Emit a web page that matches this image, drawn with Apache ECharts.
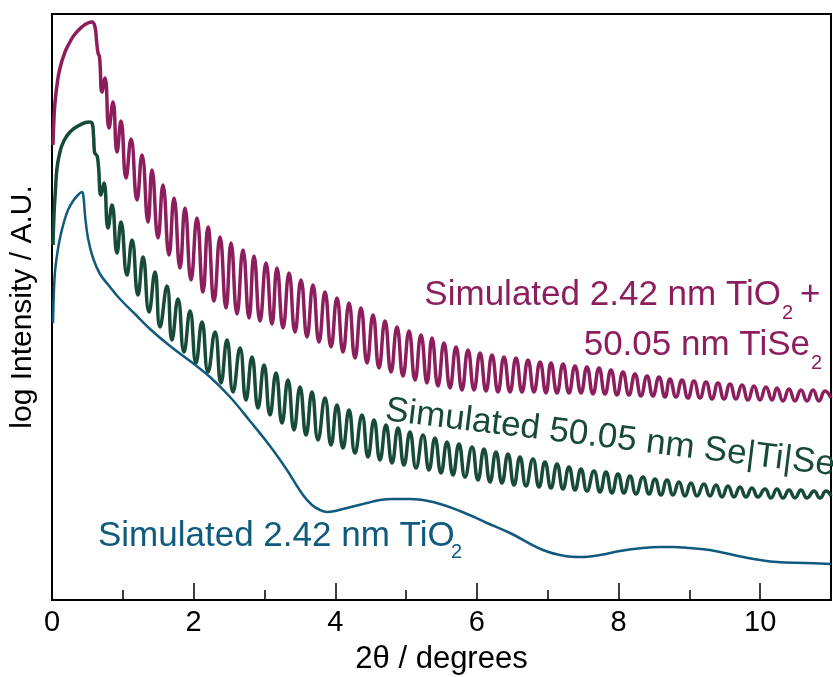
<!DOCTYPE html>
<html>
<head>
<meta charset="utf-8">
<script src="https://cdn.jsdelivr.net/npm/echarts@6/dist/echarts.min.js"></script>
<style>
html,body{margin:0;padding:0;background:#fff;}
#chart{width:833px;height:677px;}
</style>
</head>
<body>
<div id="chart"></div>
<script>
// 2θ (degrees) vs log intensity (arbitrary units)
const xTicks = [0, 2, 4, 6, 8, 10];

// Simulated 2.42 nm TiO2 + 50.05 nm TiSe2 (extrema of the fringes)
const tio2TiSe2 = [
[0.014,455],[0.028,482],[0.042,497],[0.071,515],[0.113,532],[0.184,548],[0.254,558],[0.325,566],[0.438,574],[0.508,577],
[0.565,578],[0.607,573],[0.628,560],[0.650,547],[0.671,543],[0.706,508],[0.748,522],[0.805,472],[0.861,498],[0.918,448],
[0.974,479],[1.045,422],[1.116,461],[1.200,400],[1.271,445],[1.356,378],[1.412,430],[1.497,362],[1.567,415],[1.652,345],
[1.723,402],[1.807,332],[1.878,392],[1.963,320],[2.047,382],[2.132,308],[2.203,373],[2.288,299],[2.372,363],[2.457,292],
[2.528,357],[2.612,286],[2.697,350],[2.782,282],[2.852,344],[2.937,279],[3.022,337],[3.106,276],[3.177,332],[3.262,272],
[3.347,327],[3.431,268],[3.516,320],[3.601,263],[3.685,315],[3.770,258],[3.855,308],[3.940,253],[4.024,302],[4.109,248],
[4.194,297],[4.278,242],[4.363,292],[4.448,237],[4.533,285],[4.617,232],[4.702,279],[4.787,228],[4.871,273],[4.956,224],
[5.041,269],[5.126,220],[5.210,265],[5.295,217],[5.366,262],[5.450,214],[5.535,257],[5.620,212],[5.705,253],[5.789,210],
[5.874,250],[5.959,210],[6.044,247],[6.128,209],[6.213,245],[6.298,208],[6.382,243],[6.467,208],[6.552,242],[6.637,208],
[6.721,240],[6.806,208],[6.891,238],[6.975,207],[7.046,237],[7.131,207],[7.216,236],[7.300,207],[7.385,234],[7.470,207],
[7.554,233],[7.639,206],[7.724,232],[7.809,206],[7.893,230],[7.978,205],[8.063,228],[8.147,205],[8.232,226],[8.317,204],
[8.402,224],[8.486,204],[8.571,223],[8.656,203],[8.726,221],[8.811,203],[8.896,220],[8.980,202],[9.065,219],[9.150,202],
[9.235,218],[9.320,201],[9.404,217],[9.489,201],[9.574,216],[9.658,201],[9.743,215],[9.828,200],[9.912,214],[9.997,200],
[10.082,213],[10.167,200],[10.237,212],[10.322,199],[10.407,211],[10.491,199],[10.576,210],[10.661,199],[10.746,210],[10.830,199],
[10.915,209],[11.000,202]
];

// Simulated 50.05 nm Se|Ti|Se
const seTiSe = [
[0.014,355],[0.028,385],[0.049,410],[0.071,432],[0.113,448],[0.155,457],[0.254,468],[0.395,475],[0.522,478],[0.565,477],
[0.586,465],[0.600,448],[0.642,443],[0.692,405],[0.734,417],[0.791,372],[0.847,395],[0.918,347],[0.974,378],[1.059,325],
[1.130,360],[1.214,305],[1.285,343],[1.370,288],[1.454,328],[1.525,273],[1.624,314],[1.694,260],[1.779,301],[1.864,248],
[1.949,289],[2.033,237],[2.118,278],[2.203,228],[2.302,268],[2.386,217],[2.471,260],[2.556,208],[2.655,252],[2.739,200],
[2.824,243],[2.909,192],[2.994,235],[3.078,185],[3.163,227],[3.248,177],[3.332,220],[3.417,170],[3.502,213],[3.587,165],
[3.671,208],[3.756,160],[3.855,202],[3.940,155],[4.024,195],[4.109,152],[4.194,190],[4.278,147],[4.377,185],[4.462,143],
[4.547,180],[4.631,140],[4.716,175],[4.801,137],[4.886,172],[4.970,135],[5.055,168],[5.140,132],[5.239,165],[5.323,130],
[5.408,162],[5.493,127],[5.578,158],[5.662,125],[5.747,156],[5.832,123],[5.931,153],[6.015,120],[6.100,151],[6.185,118],
[6.269,148],[6.354,117],[6.439,146],[6.524,115],[6.608,143],[6.693,114],[6.792,141],[6.877,113],[6.961,138],[7.046,112],
[7.131,136],[7.216,111],[7.300,133],[7.385,110],[7.470,131],[7.554,109],[7.653,129],[7.738,108],[7.823,128],[7.907,107],
[7.992,126],[8.077,107],[8.162,124],[8.246,106],[8.345,123],[8.430,106],[8.515,121],[8.599,105],[8.684,120],[8.769,105],
[8.853,118],[8.938,104],[9.023,117],[9.108,104],[9.206,116],[9.291,104],[9.376,115],[9.461,103],[9.545,114],[9.630,103],
[9.715,113],[9.799,103],[9.884,112],[9.969,103],[10.068,111],[10.152,102],[10.237,111],[10.322,102],[10.407,110],[10.491,102],
[10.576,110],[10.661,102],[10.760,109],[10.845,102],[10.929,109],[11.000,104]
];

// Simulated 2.42 nm TiO2
const tio2 = [
[0.014,277],[0.028,310],[0.042,328],[0.071,345],[0.113,362],[0.169,378],[0.226,390],[0.297,399],[0.367,405],[0.424,408],
[0.445,403],[0.466,385],[0.508,362],[0.579,342],[0.678,326],[0.819,313],[0.960,301],[1.172,286],[1.384,271],[1.666,254],
[1.949,239],[2.231,223],[2.514,203],[2.796,179],[3.078,154],[3.318,130],[3.544,105],[3.671,95],
[3.784,90],[3.883,88],[3.996,89],[4.109,91],[4.278,94],[4.448,97],[4.631,100],[4.815,101],[5.055,101],[5.380,98],
[5.761,89],[6.142,77],[6.467,67],[6.933,50],[7.244,44],[7.456,43],[7.738,45],[8.020,49],[8.345,52],[8.585,53],
[8.769,53],[9.009,52],[9.291,50],[9.757,43],[10.237,38],[10.633,37],[11.000,36]
];

const cMag = '#8C1E5E', cGreen = '#174B37', cBlue = '#0F5A7D';
const FF = '"Liberation Sans", Arial, Helvetica, sans-serif';

const chart = echarts.init(document.getElementById('chart'), null, {renderer: 'canvas'});
chart.setOption({
  animation: false,
  backgroundColor: '#fff',
  grid: {left: 52, right: 2, top: 14, bottom: 77, outerBoundsMode: 'none', containLabel: false,
         show: true, borderColor: '#000', borderWidth: 2, backgroundColor: 'transparent'},
  xAxis: [{
    type: 'value', min: 0, max: 11, interval: 2, position: 'bottom',
    name: '2θ / degrees', nameLocation: 'middle', nameGap: 44,
    nameTextStyle: {fontFamily: FF, fontSize: 31, color: '#000'},
    axisLine: {show: true, lineStyle: {color: '#000', width: 2}},
    axisTick: {show: true, inside: true, length: 17, lineStyle: {color: '#000', width: 1.5}},
    axisLabel: {fontFamily: FF, fontSize: 29, color: '#000', margin: 8,
      formatter: v => (xTicks.indexOf(v) >= 0 ? String(v) : '')},
    splitLine: {show: false}
  }, {
    type: 'value', min: 0, max: 11, interval: 1, position: 'bottom',
    axisLine: {show: false},
    axisTick: {show: true, inside: true, length: 10, lineStyle: {color: '#000', width: 1.5}},
    axisLabel: {show: false}, splitLine: {show: false}
  }],
  yAxis: {
    type: 'value', min: 0, max: 586,
    name: 'log Intensity / A.U.', nameLocation: 'middle', nameGap: 14,
    nameTextStyle: {fontFamily: FF, fontSize: 30, color: '#000'},
    axisLine: {show: true, lineStyle: {color: '#000', width: 2}},
    axisTick: {show: false}, axisLabel: {show: false}, splitLine: {show: false}
  },
  series: [
    {type: 'line', name: 'TiO2 + TiSe2', data: tio2TiSe2, showSymbol: false, smooth: 0.5,
     lineStyle: {color: cMag, width: 3.5}, z: 3},
    {type: 'line', name: 'Se|Ti|Se', data: seTiSe, showSymbol: false, smooth: 0.5,
     lineStyle: {color: cGreen, width: 3.5}, z: 3},
    {type: 'line', name: 'TiO2', data: tio2, showSymbol: false, smooth: 0.4,
     lineStyle: {color: cBlue, width: 2.5}, z: 3}
  ],
  graphic: [
    {type: 'text', x: 781, y: 295.5, style: {text: 'Simulated 2.42 nm TiO', fill: cMag, font: '35px ' + FF, align: 'right', verticalAlign: 'middle'}},
    {type: 'text', x: 782, y: 313, style: {text: '2', fill: cMag, font: '20px ' + FF, align: 'left', verticalAlign: 'middle'}},
    {type: 'text', x: 800, y: 295.5, style: {text: '+', fill: cMag, font: '35px ' + FF, align: 'left', verticalAlign: 'middle'}},
    {type: 'text', x: 810, y: 345.5, style: {text: '50.05 nm TiSe', fill: cMag, font: '35px ' + FF, align: 'right', verticalAlign: 'middle'}},
    {type: 'text', x: 811, y: 363, style: {text: '2', fill: cMag, font: '20px ' + FF, align: 'left', verticalAlign: 'middle'}},
    {type: 'text', x: 610, y: 438, rotation: -0.122, style: {text: 'Simulated 50.05 nm Se|Ti|Se', fill: cGreen, font: '35px ' + FF, align: 'center', verticalAlign: 'middle'}},
    {type: 'text', x: 98, y: 536.5, style: {text: 'Simulated 2.42 nm TiO', fill: cBlue, font: '35px ' + FF, align: 'left', verticalAlign: 'middle'}},
    {type: 'text', x: 451, y: 552.5, style: {text: '2', fill: cBlue, font: '20px ' + FF, align: 'left', verticalAlign: 'middle'}}
  ]
});
</script>
</body>
</html>
